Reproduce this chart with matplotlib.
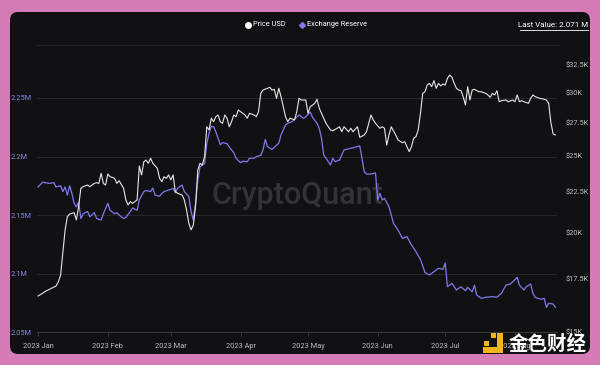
import numpy as np
import matplotlib
matplotlib.use("Agg")
import matplotlib.pyplot as plt
from matplotlib.patches import FancyBboxPatch, Rectangle
from matplotlib.lines import Line2D
from matplotlib.transforms import IdentityTransform
from matplotlib.ticker import FixedLocator, NullLocator

# days since 2023-01-01, price in $K
price_days = [0, 2, 3, 5, 6, 8, 9, 10, 11, 12, 13, 14, 16, 17, 18, 19, 20, 22, 23, 25,
              26, 27, 28, 29, 30, 31, 32, 34, 35, 36, 38, 39, 40, 41, 42, 44, 45, 46, 47, 48,
              49, 50, 51, 53, 54, 55, 56, 57, 58, 59, 60, 61, 62, 64, 65, 66, 67, 68, 69, 70,
              71, 72, 73, 74, 75, 76, 77, 78, 79, 80, 81, 82, 83, 84, 85, 86, 87, 88, 89, 90,
              92, 93, 94, 96, 97, 98, 99, 100, 102, 103, 104, 105, 106, 107, 108, 109, 110, 111, 112, 114,
              115, 116, 117, 119, 120, 121, 123, 124, 125, 127, 128, 130, 131, 133, 134, 135, 136, 138, 139, 140,
              142, 143, 145, 146, 148, 149, 150, 152, 153, 154, 155, 156, 157, 159, 160, 162, 163, 165, 166, 167,
              168, 169, 170, 171, 172, 173, 174, 175, 176, 177, 178, 179, 180, 181, 182, 183, 184, 185, 186, 187,
              188, 189, 190, 191, 192, 193, 194, 196, 197, 199, 200, 201, 202, 203, 204, 205, 206, 208, 209, 211,
              212, 213, 214, 215, 216, 218, 219, 220, 221, 223, 225, 226, 227, 228, 229, 230]
price_k = [16.65, 16.78, 16.86, 16.97, 17.03, 17.14, 17.35, 17.69, 18.9, 20.16, 20.95, 21.11, 21.19, 20.75, 21.56, 22.74, 22.85, 22.96, 22.85, 23.07,
           23.11, 23.07, 23.75, 23.07, 22.96, 23.70, 23.52, 23.41, 23.07, 23.25, 22.74, 21.99, 21.67, 21.88, 21.77, 21.99, 24.26, 23.64, 24.56, 24.68,
           24.45, 24.81, 24.45, 24.10, 23.41, 23.18, 23.52, 23.40, 23.64, 23.30, 23.64, 22.52, 22.42, 22.30, 21.99, 21.36, 20.55, 20.16, 20.45, 21.60,
           23.98, 24.45, 24.33, 24.92, 27.18, 26.93, 27.86, 27.58, 27.98, 28.12, 27.58, 27.45, 28.12, 27.86, 27.18, 27.58, 28.12, 27.98, 28.53, 28.39,
           28.12, 27.86, 28.26, 28.12, 27.98, 28.39, 29.94, 30.23, 30.38, 30.47, 30.23, 30.29, 29.51, 30.38, 29.65, 28.80, 27.98, 27.58, 27.86, 27.72,
           28.39, 29.51, 29.37, 29.37, 28.26, 28.80, 29.09, 29.43, 28.67, 27.86, 27.45, 26.93, 26.87, 27.06, 27.18, 26.79, 27.18, 26.79, 27.06, 26.79,
           27.18, 26.36, 26.54, 26.79, 28.12, 27.72, 27.45, 27.06, 27.18, 27.06, 25.78, 26.54, 27.18, 26.54, 26.16, 25.95, 26.03, 25.29, 25.65, 26.29,
           26.41, 26.93, 28.26, 29.94, 30.08, 30.67, 30.82, 30.53, 31.06, 30.38, 30.82, 30.59, 30.76, 30.67, 31.27, 31.57, 31.37, 30.82, 30.38, 30.23,
           30.17, 29.65, 28.95, 30.53, 29.37, 30.23, 30.29, 30.08, 30.08, 29.94, 29.80, 29.60, 29.94, 29.80, 30.17, 29.22, 29.31, 29.37, 29.22, 29.37,
           29.22, 29.80, 29.22, 29.31, 29.22, 29.09, 29.51, 29.80, 29.65, 29.51, 29.43, 29.37, 29.09, 27.50, 26.61, 26.54]

# days since 2023-01-01, exchange reserve in millions
reserve_days = [0, 2, 5, 7, 8, 10, 11, 12, 13, 14, 15, 16, 17, 18, 19, 20, 22, 23, 25, 26,
                28, 29, 31, 32, 34, 35, 36, 38, 39, 41, 42, 44, 45, 47, 48, 50, 51, 52, 54, 55,
                56, 59, 60, 61, 62, 64, 65, 67, 68, 69, 70, 71, 72, 74, 75, 76, 77, 78, 79, 81,
                82, 84, 85, 87, 88, 90, 91, 93, 94, 96, 97, 99, 100, 101, 102, 104, 105, 107, 108, 110,
                111, 113, 114, 116, 118, 119, 121, 122, 124, 125, 126, 127, 128, 130, 131, 132, 134, 135, 136, 139,
                141, 143, 144, 145, 146, 148, 150, 151, 152, 153, 154, 156, 158, 160, 162, 164, 166, 168, 170, 172,
                174, 176, 178, 180, 181, 182, 184, 186, 188, 190, 191, 193, 194, 195, 197, 199, 202, 204, 206, 208,
                210, 213, 214, 216, 217, 219, 220, 221, 222, 224, 225, 226, 227, 229, 230]
reserve_m = [2.174, 2.178, 2.177, 2.1776, 2.174, 2.175, 2.170, 2.174, 2.167, 2.175, 2.1685, 2.160, 2.157, 2.161, 2.147, 2.151, 2.153, 2.1485, 2.152, 2.147,
             2.1457, 2.151, 2.160, 2.154, 2.151, 2.152, 2.150, 2.147, 2.148, 2.153, 2.156, 2.154, 2.163, 2.170, 2.171, 2.170, 2.173, 2.167, 2.166, 2.1685,
             2.170, 2.172, 2.1728, 2.169, 2.1728, 2.1756, 2.170, 2.1657, 2.153, 2.1457, 2.160, 2.180, 2.1913, 2.194, 2.211, 2.2198, 2.2256, 2.2256, 2.2212, 2.210,
             2.2118, 2.211, 2.208, 2.2033, 2.1985, 2.1947, 2.196, 2.1956, 2.1985, 2.1985, 2.1999, 2.201, 2.2056, 2.2146, 2.2084, 2.206, 2.208, 2.2113, 2.2184, 2.227,
             2.2284, 2.2298, 2.2318, 2.2355, 2.2326, 2.234, 2.238, 2.2335, 2.2284, 2.224, 2.2155, 2.2013, 2.1985, 2.1927, 2.1985, 2.1956, 2.197, 2.2013, 2.2056, 2.207,
             2.208, 2.209, 2.1985, 2.187, 2.185, 2.185, 2.186, 2.1628, 2.1685, 2.1628, 2.1643, 2.157, 2.143, 2.1372, 2.130, 2.1315, 2.1244, 2.1186, 2.112, 2.101,
             2.0987, 2.1015, 2.1044, 2.1036, 2.109, 2.0887, 2.0916, 2.0859, 2.0887, 2.0853, 2.0882, 2.0844, 2.090, 2.0816, 2.0788, 2.0797, 2.0802, 2.0797, 2.0831, 2.090,
             2.091, 2.0967, 2.090, 2.0859, 2.0887, 2.091, 2.0831, 2.0797, 2.0788, 2.078, 2.0788, 2.0711, 2.0745, 2.0739, 2.071]

month_days = [0, 31, 59, 90, 120, 151, 181, 212]
month_labels = ["2023 Jan", "2023 Feb", "2023 Mar", "2023 Apr", "2023 May", "2023 Jun", "2023 Jul", "2023 Aug"]
reserve_ticks = [2.05, 2.1, 2.15, 2.2, 2.25]
reserve_tick_labels = ["2.05M", "2.1M", "2.15M", "2.2M", "2.25M"]
price_ticks = [15, 17.5, 20, 22.5, 25, 27.5, 30, 32.5]
price_tick_labels = ["$15K", "$17.5K", "$20K", "$22.5K", "$25K", "$27.5K", "$30K", "$32.5K"]

W, H = 600, 365
plt.rcParams["font.family"] = ["Roboto", "DejaVu Sans"]

PINK = "#d57bb6"
PANEL = "#111114"
WHITE = "#e6e6e6"
PURPLE = "#7f78ee"

fig = plt.figure(figsize=(W / 100, H / 100), dpi=100)
fig.patch.set_facecolor(PINK)


def fx(x):
    return x / W


def fy(y):
    return 1 - y / H


# dark rounded panel (pixel coordinates, origin bottom-left)
panel = FancyBboxPatch((10, H - 354), 580, 342, boxstyle="round,pad=0,rounding_size=8",
                       transform=IdentityTransform(), facecolor=PANEL, edgecolor="none", zorder=-2)
fig.add_artist(panel)

# separator below legend
fig.add_artist(Line2D([fx(36), fx(558)], [fy(45), fy(45)], color="#222226", lw=0.8, zorder=-1))

# watermark
fig.text(fx(297), fy(195), "CryptoQuant", fontsize=22, color="#323237", ha="center", va="center",
         weight="medium", zorder=-1)

x0, x1, ytop, ybot = 37, 557, 60, 332
ax = fig.add_axes([fx(x0), fy(ybot), (x1 - x0) / W, (ybot - ytop) / H])
ax.set_facecolor("none")
base = np.datetime64("2023-01-01")
res_dates = base + np.array(reserve_days).astype("timedelta64[D]")
price_dates = base + np.array(price_days).astype("timedelta64[D]")

ax.plot(res_dates, reserve_m, color=PURPLE, lw=0.9)
ax.set_xlim(base - np.timedelta64(12, "h"), base + np.timedelta64(230, "D") + np.timedelta64(17, "h"))
ax.set_ylim(2.05, 2.05 + (ybot - ytop) / 58.5 * 0.05)
ax.set_yticks(reserve_ticks)
ax.set_yticklabels(reserve_tick_labels)
ax.yaxis.grid(True, color="#26262b", lw=0.7)
ax.set_axisbelow(True)
for s in ["top", "right", "left"]:
    ax.spines[s].set_visible(False)
ax.spines["bottom"].set_color("#3a3a40")
ax.spines["bottom"].set_linewidth(0.7)
ax.tick_params(axis="y", length=0, pad=19, labelsize=5.3, labelcolor="#8a86e8")
for lab in ax.get_yticklabels():
    lab.set_ha("left")
ax.set_xticks(base + np.array(month_days).astype("timedelta64[D]"))
ax.set_xticklabels(month_labels)
ax.tick_params(axis="x", length=3, width=0.6, color="#3a3a40", pad=5, labelsize=5.3, labelcolor="#bdbdc2")

ax2 = ax.twinx()
ax2.plot(price_dates, price_k, color=WHITE, lw=0.8)
ax2.set_yscale("log")
ax2.set_ylim(15, 15 * np.exp((ybot - ytop) * 0.002896))
ax2.yaxis.set_major_locator(FixedLocator(price_ticks))
ax2.yaxis.set_minor_locator(NullLocator())
ax2.set_yticklabels(price_tick_labels)
ax2.tick_params(axis="y", which="both", length=0, pad=6, labelsize=5.3, labelcolor="#bdbdc2")
for s in ["top", "right", "left", "bottom"]:
    ax2.spines[s].set_visible(False)

# legend
fig.add_artist(Line2D([fx(248)], [fy(24.5)], marker="o", ms=4, color="white", lw=0))
fig.text(fx(253), fy(24.5), "Price USD", fontsize=5.3, color="white", va="center")
fig.add_artist(Line2D([fx(302)], [fy(24.5)], marker="D", ms=3, color=PURPLE, lw=0))
fig.text(fx(307), fy(24.5), "Exchange Reserve", fontsize=5.3, color="white", va="center")

# last value
fig.text(fx(588), fy(25), "Last Value: 2.071 M", fontsize=5.8, color="white", ha="right", va="center")
fig.add_artist(Line2D([fx(520), fx(588)], [fy(30), fy(30)], color="white", lw=0.6))

# corner logo
yellow = "#f2b51b"
for (lx, ly, lw_, lh) in [(491, 333, 5, 5), (497, 333, 6, 20), (483, 347, 20, 6), (484, 341, 5, 5)]:
    fig.add_artist(Rectangle((lx, H - ly - lh), lw_, lh, transform=IdentityTransform(),
                             facecolor=yellow, edgecolor="none", zorder=5))
fig.text(fx(548), fy(344), "金色财经", fontsize=14, color="white", ha="center", va="center",
         family=["Noto Sans CJK SC", "DejaVu Sans"], weight="bold", zorder=5)

fig.savefig("out.png", dpi=100, facecolor=PINK)
